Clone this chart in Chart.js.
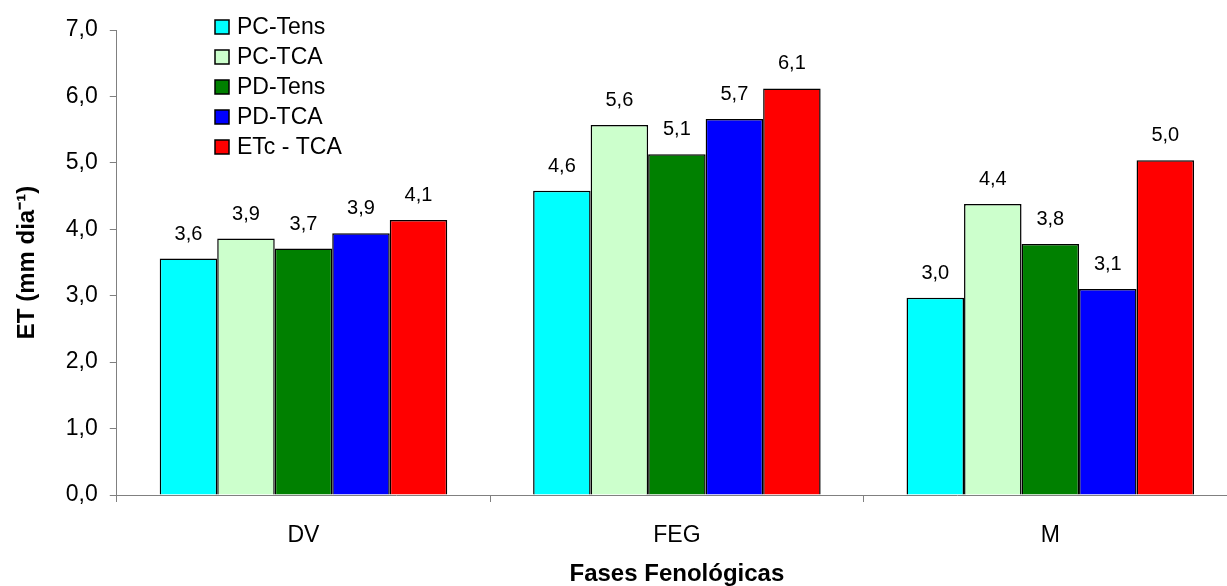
<!DOCTYPE html>
<html>
<head>
<meta charset="utf-8">
<script src="https://cdn.jsdelivr.net/npm/chart.js@4"></script>
<style>
  html, body { margin: 0; padding: 0; background: #fff; overflow: hidden; }
  .wrap { width: 1240px; height: 586px; position: relative; }
</style>
</head>
<body>
<div class="wrap"><canvas id="chart"></canvas></div>
<script>
const fases = ['DV', 'FEG', 'M']
const pcTens = [3.56, 4.58, 2.97]
const pcTca = [3.86, 5.57, 4.38]
const pdTens = [3.71, 5.13, 3.78]
const pdTca = [3.94, 5.66, 3.10]
const etcTca = [4.14, 6.12, 5.04]
const yTicks = [0, 1, 2, 3, 4, 5, 6, 7]

const FONT = "'Liberation Sans', Arial, sans-serif"
const fmtVal = v => v.toFixed(1).replace('.', ',')

// rotulos de valor acima das barras
const valueLabels = {
  id: 'valueLabels',
  afterDatasetsDraw(chart) {
    const ctx = chart.ctx
    ctx.save()
    ctx.font = '20px ' + FONT
    ctx.fillStyle = '#000'
    ctx.textAlign = 'center'
    ctx.textBaseline = 'alphabetic'
    chart.data.datasets.forEach((ds, i) => {
      chart.getDatasetMeta(i).data.forEach((bar, j) => {
        ctx.fillText(fmtVal(ds.data[j]), bar.x, bar.y - 19)
      })
    })
    ctx.restore()
  }
}

// legenda dentro da area do grafico, canto superior esquerdo
const boxLegend = {
  id: 'boxLegend',
  afterDraw(chart) {
    const ctx = chart.ctx
    ctx.save()
    ctx.font = '23px ' + FONT
    ctx.textBaseline = 'middle'
    chart.data.datasets.forEach((ds, i) => {
      const y = 27 + i * 30
      ctx.fillStyle = ds.backgroundColor
      ctx.fillRect(215, y - 7, 14, 14)
      ctx.strokeStyle = '#000'
      ctx.lineWidth = 1.5
      ctx.strokeRect(215, y - 7, 14, 14)
      ctx.fillStyle = '#000'
      ctx.fillText(ds.label, 237, y + 1)
    })
    ctx.restore()
  }
}

const bar = (label, data, color) => ({
  label, data, backgroundColor: color, borderColor: '#000', borderWidth: 1.5,
  barPercentage: 1, categoryPercentage: 0.77,
})

new Chart(document.getElementById('chart'), {
  type: 'bar',
  data: {
    labels: fases,
    datasets: [
      bar('PC-Tens', pcTens, '#00FFFF'),
      bar('PC-TCA', pcTca, '#CCFFCC'),
      bar('PD-Tens', pdTens, '#008000'),
      bar('PD-TCA', pdTca, '#0000FF'),
      bar('ETc - TCA', etcTca, '#FF0000'),
    ],
  },
  options: {
    responsive: true,
    maintainAspectRatio: false,
    animation: false,
    layout: { padding: { left: 9, top: 30, right: 3, bottom: 0 } },
    plugins: { legend: { display: false }, tooltip: { enabled: false } },
    scales: {
      x: {
        offset: true,
        afterFit: s => { s.height = 91 },
        grid: { display: true, drawOnChartArea: false, drawTicks: true, tickLength: 7, offset: true, color: '#808080' },
        border: { color: '#808080', width: 1 },
        ticks: { font: { family: FONT, size: 23, lineHeight: 1 }, color: '#000', padding: 22 },
        title: { display: true, text: 'Fases Fenológicas', font: { family: FONT, size: 24, weight: 'bold', lineHeight: 1 }, color: '#000', padding: { top: 0, bottom: 0 } },
      },
      y: {
        min: 0,
        max: 7,
        afterBuildTicks: axis => { axis.ticks = yTicks.map(v => ({ value: v })) },
        grid: { display: true, drawOnChartArea: false, drawTicks: true, tickLength: 7, color: '#808080' },
        border: { color: '#808080', width: 1 },
        ticks: { font: { family: FONT, size: 23 }, color: '#000', padding: 12, callback: v => fmtVal(v) },
        title: { display: true, text: 'ET (mm dia⁻¹)', font: { family: FONT, size: 24, weight: 'bold' }, color: '#000', padding: { top: 4, bottom: 12 } },
      },
    },
  },
  plugins: [valueLabels, boxLegend],
})
</script>
</body>
</html>
